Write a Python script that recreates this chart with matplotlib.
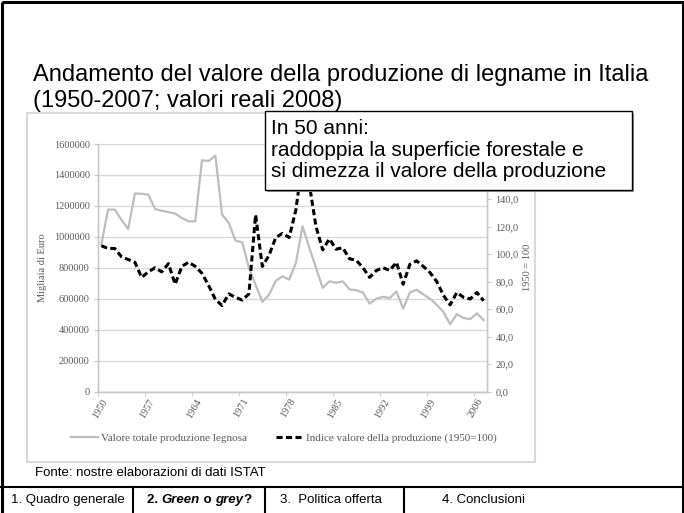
import matplotlib
matplotlib.use('Agg')
import matplotlib.pyplot as plt
from matplotlib.patches import Rectangle
from matplotlib.lines import Line2D
from matplotlib.ticker import FixedLocator

# ---------------- data ----------------
years = list(range(1950, 2008))
valore_totale = [950000, 1176000, 1176000, 1110000, 1050000, 1280000, 1278000, 1273000, 1180000, 1168000,
                 1160000, 1150000, 1122000, 1100000, 1100000, 1495000, 1490000, 1525000, 1144000, 1090000,
                 975000, 965000, 800000, 690000, 580000, 626000, 715000, 745000, 723000, 830000,
                 1068000, 930000, 800000, 670000, 712000, 703000, 712000, 660000, 655000, 640000,
                 568000, 600000, 612000, 604000, 647000, 535000, 640000, 658000, 628000, 600000,
                 560000, 515000, 435000, 500000, 475000, 468000, 505000, 462000]
indice = [106, 104, 104, 98, 96, 94, 83, 87, 90, 87,
          93, 78, 91, 94, 91, 86, 77, 67, 62.5, 71,
          68.5, 66.5, 71, 128.5, 91, 99, 112, 115, 112, 132,
          168, 151, 120, 103, 111, 103.5, 104.5, 96.5, 95.5, 90,
          83, 88, 90, 88, 94, 78, 92.5, 95, 91, 86.5,
          80, 70, 63, 72, 68.5, 67.3, 72, 66]
left_ticks = [0, 200000, 400000, 600000, 800000, 1000000, 1200000, 1400000, 1600000]
left_labels = ['0', '200000', '400000', '600000', '800000', '1000000', '1200000', '1400000', '1600000']
right_ticks = [0, 20, 40, 60, 80, 100, 120, 140]
right_labels = ['0,0', '20,0', '40,0', '60,0', '80,0', '100,0', '120,0', '140,0']
x_label_years = [1950, 1957, 1964, 1971, 1978, 1985, 1992, 1999, 2006]
serie_labels = ['Valore totale produzione legnosa', 'Indice valore della produzione (1950=100)']

title1 = 'Andamento del valore della produzione di legname in Italia'
title2 = '(1950-2007; valori reali 2008)'
box_text = 'In 50 anni:\nraddoppia la superficie forestale e\nsi dimezza il valore della produzione'
fonte = 'Fonte: nostre elaborazioni di dati ISTAT'

# ---------------- figure ----------------
W, H = 684, 513
fig = plt.figure(figsize=(W / 100, H / 100), dpi=100)
fig.patch.set_facecolor('white')

def fx(px):
    return px / W

def fy(py):
    return 1 - py / H

SANS = ['Liberation Sans', 'DejaVu Sans']
SERIF = ['Liberation Serif', 'DejaVu Serif']
GREYTXT = '#5a5a5a'

bg = fig.add_axes([0, 0, 1, 1])
bg.set_xlim(0, W)
bg.set_ylim(H, 0)
bg.axis('off')

# chart picture frame
bg.add_patch(Rectangle((27, 113), 508, 349, fill=False, ec='#d9d9d9', lw=1.5))

# ---------------- chart ----------------
ax = fig.add_axes([fx(98), fy(391.5), fx(487) - fx(98), fy(144) - fy(391.5)])
ax.patch.set_alpha(0)
ax2 = ax.twinx()

ax.plot(years, valore_totale, color='#bdbdbd', lw=1.6, solid_joinstyle='round', zorder=3)
ax2.plot(years, indice, color='black', lw=2.2, dashes=(2.0, 1.1), zorder=3)

ax.set_xlim(1949.5, 2007.5)
ax.set_ylim(0, 1600000)
ax2.set_ylim(0, 180)

ax.set_yticks(left_ticks)
ax.set_yticklabels(left_labels)
ax2.set_yticks(right_ticks)
ax2.set_yticklabels(right_labels)

ax.set_xticks(x_label_years)
ax.set_xticklabels([str(y) for y in x_label_years], rotation=60, ha='right', va='top',
                   rotation_mode='anchor')
ax.xaxis.set_minor_locator(FixedLocator([y - 0.5 for y in x_label_years]))
ax.tick_params(axis='x', which='major', length=0, pad=4)
ax.tick_params(axis='x', which='minor', length=3, color='#c8c8c8', direction='out')

ax.grid(axis='y', color='#d9d9d9', lw=1.0)
ax.set_axisbelow(True)

for a in (ax, ax2):
    for s in a.spines.values():
        s.set_color('#c8c8c8')
        s.set_linewidth(1.0)
    a.spines['top'].set_visible(False)

ax.tick_params(axis='y', length=3, color='#c8c8c8', pad=3)
ax2.tick_params(axis='y', length=3, color='#c8c8c8', pad=3)

for lab in ax.get_yticklabels() + ax2.get_yticklabels() + ax.get_xticklabels():
    lab.set_fontfamily(SERIF)
    lab.set_fontsize(7.5)
    lab.set_color(GREYTXT)

ax.set_ylabel('Migliaia di Euro', family=SERIF, fontsize=7.5, color=GREYTXT, labelpad=5)
ax2.set_ylabel('1950 = 100', family=SERIF, fontsize=7.5, color=GREYTXT, labelpad=3)

handles = [Line2D([], [], color='#bdbdbd', lw=1.6),
           Line2D([], [], color='black', lw=2.2, dashes=(2.0, 1.1))]
fig.legend(handles, serie_labels, loc='center', bbox_to_anchor=(fx(284), fy(438)), ncol=2,
           frameon=False, prop={'family': SERIF, 'size': 8}, handlelength=2.4,
           handletextpad=0.3, columnspacing=2.6, labelcolor=GREYTXT)

# ---------------- slide texts ----------------
fig.text(fx(33), fy(75), title1, family=SANS, fontsize=17, va='center', ha='left', color='black')
fig.text(fx(33), fy(101), title2, family=SANS, fontsize=17, va='center', ha='left', color='black')

fg = fig.add_axes([0, 0, 1, 1], zorder=10)
fg.set_xlim(0, W)
fg.set_ylim(H, 0)
fg.axis('off')
fg.patch.set_alpha(0)
fg.add_patch(Rectangle((267, 113), 367, 79, fc='#9a9a9a', ec='none'))
fg.add_patch(Rectangle((265, 111), 367, 79, fc='white', ec='black', lw=1.0))
fg.text(271, 150, box_text, family=SANS, fontsize=15, va='center', ha='left',
        linespacing=1.16, color='black')

FS = 9.5
fg.text(35, 473, fonte, family=SANS, fontsize=FS, va='center', ha='left', color='black')

# tabs
fg.plot([0, W], [487, 487], color='black', lw=1.5)
for xs in (133, 265, 404):
    fg.plot([xs, xs], [487, H], color='black', lw=1.5)
fg.text(67.5, 500, '1. Quadro generale', family=SANS, fontsize=FS, va='center', ha='center')
t1 = fg.text(147, 500, '2. ', family=SANS, fontsize=FS, va='center', ha='left', weight='bold')
t2 = fg.annotate('Green', xy=(1, 0), xycoords=t1, va='bottom', ha='left', family=SANS,
                 fontsize=FS, weight='bold', style='italic')
t3 = fg.annotate(' o ', xy=(1, 0), xycoords=t2, va='bottom', ha='left', family=SANS,
                 fontsize=FS, weight='bold')
t4 = fg.annotate('grey', xy=(1, 0), xycoords=t3, va='bottom', ha='left', family=SANS,
                 fontsize=FS, weight='bold', style='italic')
t5 = fg.annotate('?', xy=(1, 0), xycoords=t4, va='bottom', ha='left', family=SANS,
                 fontsize=FS, weight='bold')
fg.text(331, 500, '3.  Politica offerta', family=SANS, fontsize=FS, va='center', ha='center')
fg.text(484, 500, '4. Conclusioni', family=SANS, fontsize=FS, va='center', ha='center')

# slide border
fg.add_patch(Rectangle((1.5, 1.5), W - 3, H + 5, fill=False, ec='black', lw=2.2))

fig.savefig('out.png', dpi=100, facecolor='white')
